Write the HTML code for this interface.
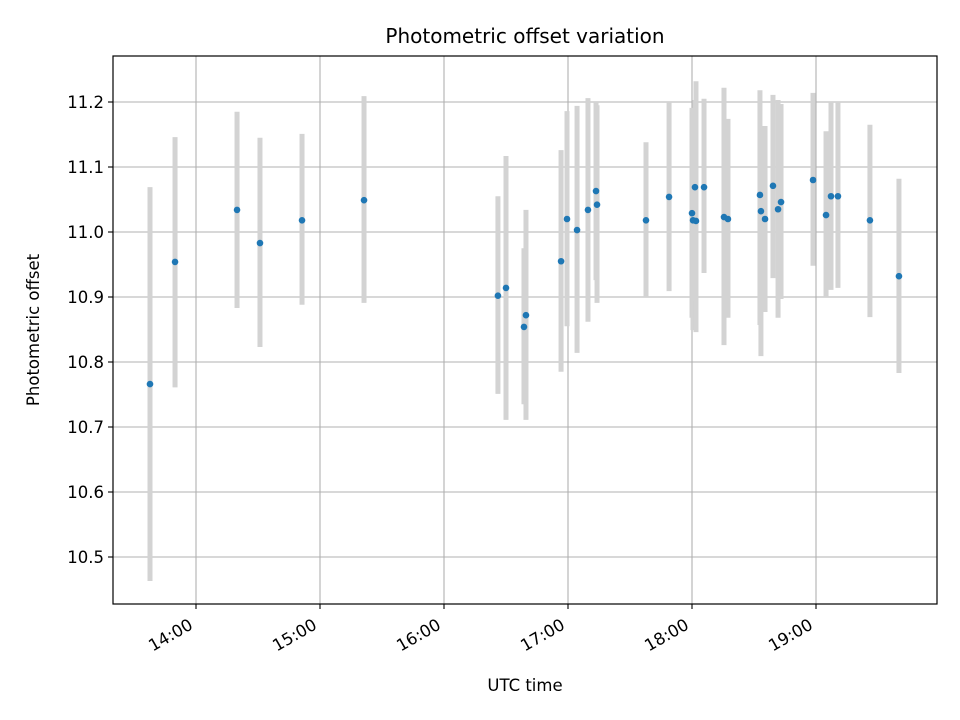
<!DOCTYPE html>
<html><head><meta charset="utf-8"><style>
body{margin:0;background:#fff}
svg{display:block;font-family:"DejaVu Sans","Liberation Sans",sans-serif}
</style></head><body>
<svg id="chart" width="960" height="720" viewBox="0 0 960 720">
<rect x="0" y="0" width="960" height="720" fill="#fff"/>
<text x="525" y="43" font-size="20" text-anchor="middle" fill="#000">Photometric offset variation</text>
<g id="grid"></g>
<g id="bars"></g>
<g id="dots"></g>
<rect x="113" y="56" width="824" height="548" fill="none" stroke="#000" stroke-width="1.2"/>
<g id="ticks"></g>
<text x="525" y="691" font-size="16.5" text-anchor="middle">UTC time</text>
<text transform="translate(39,330) rotate(-90)" font-size="16.5" text-anchor="middle">Photometric offset</text>
</svg>
<script>
const times=[13.629,13.831,14.331,14.516,14.855,15.355,16.435,16.5,16.645,16.661,16.944,16.992,17.073,17.161,17.226,17.234,17.629,17.815,18.0,18.008,18.032,18.024,18.097,18.258,18.29,18.548,18.556,18.589,18.653,18.694,18.718,18.976,19.081,19.121,19.177,19.435,19.669];
const values=[10.766,10.954,11.034,10.983,11.018,11.049,10.902,10.914,10.854,10.872,10.955,11.020,11.003,11.034,11.063,11.042,11.018,11.054,11.029,11.018,11.017,11.069,11.069,11.023,11.020,11.057,11.032,11.020,11.071,11.035,11.046,11.080,11.026,11.055,11.055,11.018,10.932];
const upper=[11.069,11.146,11.185,11.145,11.151,11.209,11.055,11.117,10.975,11.034,11.126,11.186,11.194,11.206,11.2,11.195,11.138,11.2,11.191,11.185,11.232,11.203,11.205,11.222,11.174,11.218,11.163,11.163,11.211,11.203,11.197,11.214,11.155,11.2,11.2,11.165,11.082];
const lower=[10.463,10.761,10.883,10.823,10.888,10.891,10.751,10.711,10.735,10.711,10.785,10.855,10.814,10.862,10.926,10.891,10.9,10.909,10.868,10.849,10.846,10.895,10.937,10.826,10.868,10.857,10.809,10.877,10.929,10.868,10.897,10.948,10.9,10.911,10.914,10.869,10.783];
const yTicks=[10.5,10.6,10.7,10.8,10.9,11.0,11.1,11.2];
const xTicks=[14,15,16,17,18,19];
const xTickLabels=["14:00","15:00","16:00","17:00","18:00","19:00"];
const NS="http://www.w3.org/2000/svg";
const X=h=>196+(h-14)*124;
const Y=v=>102+(11.2-v)*650;
function mk(tag,attrs,parent){const e=document.createElementNS(NS,tag);for(const k in attrs)e.setAttribute(k,attrs[k]);document.getElementById(parent).appendChild(e);return e;}
yTicks.forEach((v,i)=>{
  const g=mk('line',{x1:113,x2:937,y1:Y(v),y2:Y(v),stroke:'#b0b0b0','stroke-width':1.1},'grid');
  
  
  const t=mk('line',{x1:108,x2:113,y1:Y(v),y2:Y(v),stroke:'#000','stroke-width':1.1},'ticks');
  
  
  const l=mk('text',{x:104,y:Y(v)+6,'font-size':16.5,'text-anchor':'end'},'ticks');
  l.textContent=v.toFixed(1);
  
  
});
xTicks.forEach((h,i)=>{
  const g=mk('line',{x1:X(h),x2:X(h),y1:56,y2:604,stroke:'#b0b0b0','stroke-width':1.1},'grid');
  
  
  const t=mk('line',{x1:X(h),x2:X(h),y1:604,y2:609,stroke:'#000','stroke-width':1.1},'ticks');
  
  
  const l=mk('text',{x:0,y:0,'font-size':16.5,'text-anchor':'end',transform:`translate(${X(h)-2},${628}) rotate(-30)`},'ticks');
  l.textContent=xTickLabels[i];
  
  
});
times.forEach((h,i)=>{
  const b=mk('line',{x1:X(h),x2:X(h),y1:Y(upper[i]),y2:Y(lower[i]),stroke:'#d3d3d3','stroke-width':5},'bars');
  
  
});
times.forEach((h,i)=>{
  const d=mk('circle',{cx:X(h),cy:Y(values[i]),r:3.3,fill:'#1f77b4'},'dots');
  
  
});
</script>
</body></html>
